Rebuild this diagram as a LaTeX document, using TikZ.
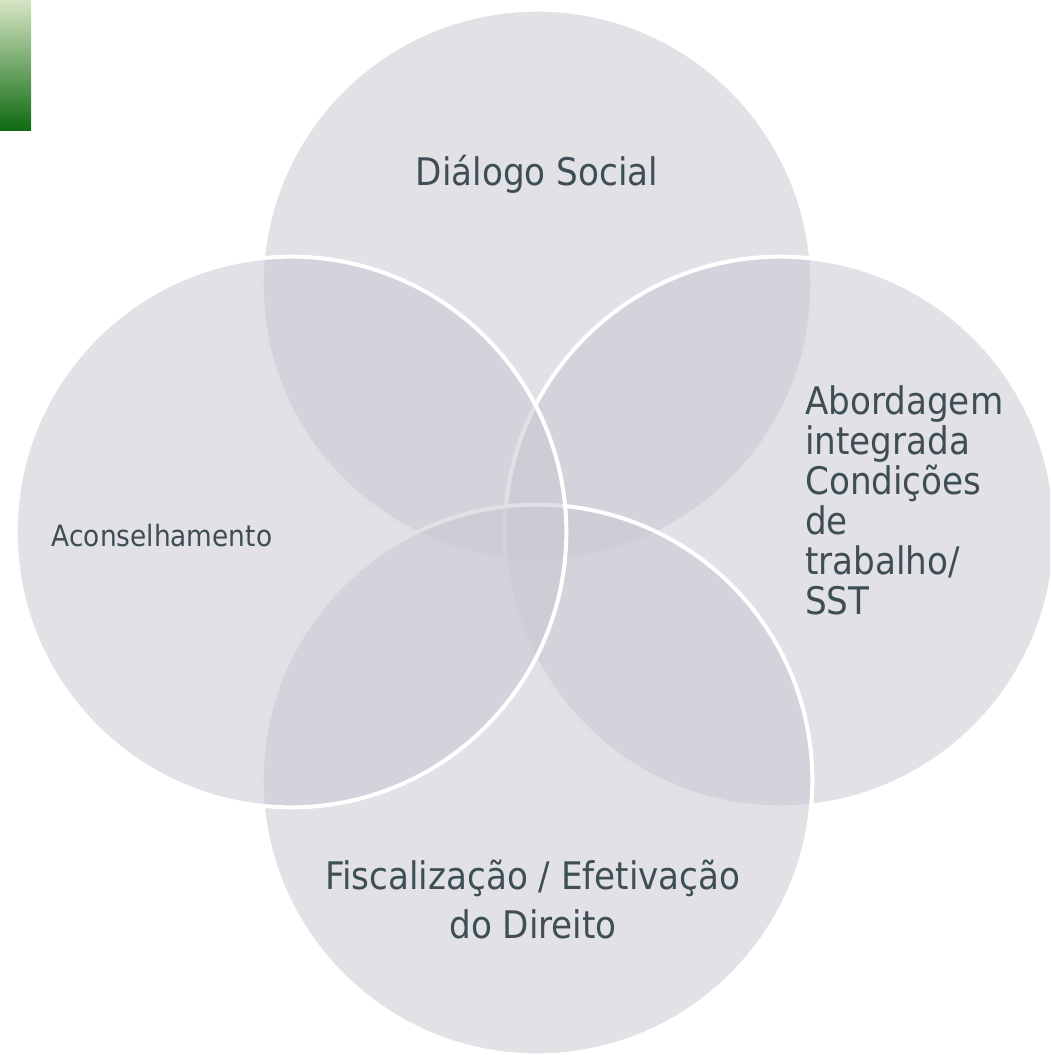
\documentclass[tikz,border=0pt]{standalone}
\usepackage{fontspec}
\setmainfont{DejaVu Sans Condensed}
\usetikzlibrary{positioning}
\definecolor{vennGray}{RGB}{200,200,210}
\definecolor{vennText}{RGB}{62,78,85}
\definecolor{barTop}{RGB}{215,229,196}
\definecolor{barMid}{RGB}{160,188,119}
\definecolor{barBot}{RGB}{13,106,16}

\begin{document}
\begin{tikzpicture}[
		x=0.75pt, y=-0.75pt,
		% Styles
		vennCircle/.style={fill=vennGray, fill opacity=0.55, draw=white, line width=3pt},
		vennLabel/.style={text=vennText, inner sep=0pt},
		bigLabel/.style={vennLabel, font=\fontsize{28.5}{36.75}\selectfont, align=center},
		sideLabel/.style={vennLabel, font=\fontsize{28.5}{30}\selectfont, align=left, anchor=west}
	]

	% --- 0. KADER ---
	\useasboundingbox (0,0) rectangle (1050,1055);
	\clip (0,0) rectangle (1050,1055);

	% --- 1. GROENE BALK ---
	\shade[top color=barTop, middle color=barMid, bottom color=barBot] (0,0) rectangle (31,131);

	% --- 2. DE VIER CIRKELS ---
	\def\R{206.5pt}
	\draw[vennCircle] (537,285) circle[radius=\R];  % boven
	\draw[vennCircle] (780,532) circle[radius=\R];  % rechts
	\draw[vennCircle] (537,780) circle[radius=\R];  % onder
	\draw[vennCircle] (291,532) circle[radius=\R];  % links

	% --- 3. TEKSTEN ---
	\node[bigLabel] (dialogo) at (537,174) {Diálogo Social};
	\node[vennLabel, font=\fontsize{22}{26}\selectfont] (aconselhamento) at (162,536) {Aconselhamento};
	\node[sideLabel] (abordagem) at (805,500) {Abordagem\\integrada\\Condições\\de\\trabalho/\\SST};
	\node[bigLabel] (fiscalizacao) at (533,899) {Fiscalização / Efetivação\\do Direito};

\end{tikzpicture}
\end{document}
